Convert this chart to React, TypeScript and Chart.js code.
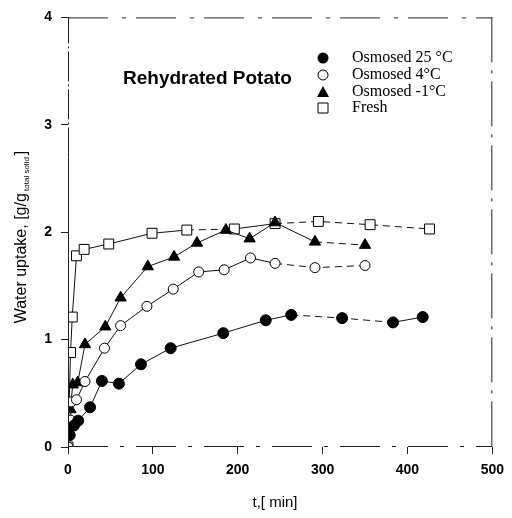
import React, { useEffect, useRef } from "react";
import { Chart, registerables } from "chart.js";

Chart.register(...registerables);

// ---- data ----
const labels25 = ["Osmosed 25 °C", "Osmosed 4°C", "Osmosed -1°C", "Fresh"];
const t25 = [2, 7, 12, 26, 40, 60, 86, 121, 183, 233, 263, 323, 383, 418];
const w25 = [0.11, 0.2, 0.245, 0.37, 0.615, 0.59, 0.77, 0.92, 1.06, 1.18, 1.23, 1.2, 1.16, 1.21];
const t4 = [0, 3, 4, 10, 20, 43, 62, 93, 124, 154, 184, 215, 244, 291, 350];
const w4 = [0, 0.25, 0.42, 0.44, 0.61, 0.92, 1.13, 1.31, 1.47, 1.63, 1.65, 1.76, 1.71, 1.67, 1.69];
const tM1 = [3, 5.5, 11.5, 20, 44, 62, 94, 125, 152, 186, 214, 244, 291, 350];
const wM1 = [0.35, 0.58, 0.6, 0.955, 1.12, 1.39, 1.68, 1.77, 1.9, 2.02, 1.94, 2.09, 1.91, 1.88];
const tFresh = [0, 3, 5, 10, 19, 48, 99, 140, 196, 244, 295, 356, 426];
const wFresh = [0, 0.88, 1.21, 1.78, 1.84, 1.89, 1.99, 2.02, 2.03, 2.08, 2.1, 2.07, 2.03];
// segments (by start index) drawn dashed
const dash25 = [10, 11];
const dash4 = [12, 13];
const dashM1 = [12];
const dashFresh = [7, 9, 10, 11];
const xTicks = [0, 100, 200, 300, 400, 500];
const yTicks = [0, 1, 2, 3, 4];
const chartTitle = "Rehydrated Potato";
const xTitle = "t,[ min]";
const yTitleMain = "Water uptake, [g/g";
const yTitleSub = "total solid";
const yTitleEnd = "]";

const pts = (t: number[], w: number[]) => t.map((x, i) => ({ x, y: w[i] }));
const segDash = (set: number[]) => ({
  borderDash: (ctx: any) => (set.includes(ctx.p0DataIndex) ? [7, 5] : undefined),
});

const decor = {
  id: "decor",
  afterDraw(chart: any) {
    const { ctx, chartArea: a } = chart;
    ctx.save();
    ctx.strokeStyle = "#222";
    ctx.lineWidth = 1;
    const line = (x1: number, y1: number, x2: number, y2: number, dash: number[]) => {
      ctx.setLineDash(dash);
      ctx.beginPath();
      ctx.moveTo(x1, y1);
      ctx.lineTo(x2, y2);
      ctx.stroke();
    };
    // frame
    line(a.left + 0.5, a.bottom, a.left + 0.5, a.top + 140, []);
    line(a.left + 0.5, a.top + 140, a.left + 0.5, a.top, [30, 3, 2, 3]);
    line(a.left, a.top + 0.5, a.right, a.top + 0.5, [40, 14, 4, 10]);
    line(a.right - 0.5, a.top, a.right - 0.5, a.bottom, [45, 8, 3, 8]);
    line(a.left, a.bottom - 0.5, a.right, a.bottom - 0.5, [40, 12, 4, 12]);
    ctx.setLineDash([]);

    // title
    ctx.fillStyle = "#000";
    ctx.font = "bold 19px 'Liberation Sans', Arial, sans-serif";
    ctx.textAlign = "left";
    ctx.textBaseline = "middle";
    ctx.fillText(chartTitle, 123, 79);

    // legend
    const lx = 323;
    const rows = [58, 75, 92, 108];
    ctx.font = "16px 'Liberation Serif', 'Times New Roman', serif";
    rows.forEach((y, i) => {
      ctx.lineWidth = 1;
      ctx.strokeStyle = "#000";
      ctx.beginPath();
      if (i === 0) {
        ctx.arc(lx, y, 5.5, 0, Math.PI * 2);
        ctx.fillStyle = "#000";
        ctx.fill();
      } else if (i === 1) {
        ctx.arc(lx, y, 5, 0, Math.PI * 2);
        ctx.fillStyle = "#fff";
        ctx.fill();
        ctx.stroke();
      } else if (i === 2) {
        ctx.moveTo(lx, y - 6);
        ctx.lineTo(lx + 6, y + 5);
        ctx.lineTo(lx - 6, y + 5);
        ctx.closePath();
        ctx.fillStyle = "#000";
        ctx.fill();
      } else {
        ctx.rect(lx - 5, y - 5, 10, 10);
        ctx.fillStyle = "#fff";
        ctx.fill();
        ctx.stroke();
      }
      ctx.fillStyle = "#000";
      ctx.textAlign = "left";
      ctx.textBaseline = "middle";
      ctx.fillText(labels25[i], 352, y);
    });

    // x title
    ctx.font = "15px 'Liberation Sans', Arial, sans-serif";
    ctx.textAlign = "center";
    ctx.textBaseline = "middle";
    ctx.fillText(xTitle, 275, 503);

    // y title (rotated with subscript)
    ctx.save();
    ctx.translate(22, 237);
    ctx.rotate(-Math.PI / 2);
    const f1 = "16px 'Liberation Sans', Arial, sans-serif";
    const f2 = "8px 'Liberation Sans', Arial, sans-serif";
    ctx.font = f1;
    const w1 = ctx.measureText(yTitleMain).width;
    const w3 = ctx.measureText(yTitleEnd).width;
    ctx.font = f2;
    const w2 = ctx.measureText(" " + yTitleSub).width;
    let x = -(w1 + w2 + w3 + 2) / 2;
    ctx.textAlign = "left";
    ctx.textBaseline = "middle";
    ctx.font = f1;
    ctx.fillText(yTitleMain, x, 0);
    x += w1;
    ctx.font = f2;
    ctx.fillText(" " + yTitleSub, x, 5);
    x += w2 + 2;
    ctx.font = f1;
    ctx.fillText(yTitleEnd, x, 0);
    ctx.restore();

    ctx.restore();
  },
};

export default function App() {
  const ref = useRef<HTMLCanvasElement | null>(null);
  useEffect(() => {
    if (!ref.current) return;
    Chart.defaults.font.family = "'Liberation Sans', Arial, sans-serif";
    const common = {
      borderColor: "#111",
      borderWidth: 1,
      pointBorderColor: "#000",
      pointBorderWidth: 1,
      showLine: true,
      tension: 0,
    };
    const chart = new Chart(ref.current, {
      type: "scatter",
      data: {
        datasets: [
          {
            ...common,
            label: labels25[0],
            data: pts(t25, w25),
            pointStyle: "circle",
            pointRadius: 5.5,
            pointBackgroundColor: "#000",
            segment: segDash(dash25),
          },
          {
            ...common,
            label: labels25[1],
            data: pts(t4, w4),
            pointStyle: "circle",
            pointRadius: 5,
            pointBackgroundColor: "#fff",
            segment: segDash(dash4),
          },
          {
            ...common,
            label: labels25[2],
            data: pts(tM1, wM1),
            pointStyle: "triangle",
            pointRadius: 6.5,
            pointBackgroundColor: "#000",
            segment: segDash(dashM1),
          },
          {
            ...common,
            label: labels25[3],
            data: pts(tFresh, wFresh),
            pointStyle: "rect",
            pointRadius: 7,
            pointBackgroundColor: "#fff",
            segment: segDash(dashFresh),
          },
        ],
      },
      options: {
        responsive: false,
        animation: false,
        layout: { padding: { left: 0, top: 16, right: 19, bottom: 0 } },
        plugins: { legend: { display: false }, tooltip: { enabled: false } },
        scales: {
          x: {
            type: "linear",
            min: 0,
            max: 500,
            afterFit: (s: any) => {
              s.height = 71;
            },
            afterBuildTicks: (s: any) => {
              s.ticks = xTicks.map((v) => ({ value: v }));
            },
            border: { display: false },
            grid: { drawOnChartArea: false, tickLength: 7, color: "#222" },
            ticks: {
              padding: 8,
              color: "#000",
              font: { size: 14, weight: "bold" },
            },
          },
          y: {
            type: "linear",
            min: 0,
            max: 4,
            afterFit: (s: any) => {
              s.width = 68;
            },
            afterBuildTicks: (s: any) => {
              s.ticks = yTicks.map((v) => ({ value: v }));
            },
            border: { display: false },
            grid: { drawOnChartArea: false, tickLength: 7, color: "#222" },
            ticks: {
              padding: 9,
              color: "#000",
              font: { size: 14, weight: "bold" },
            },
          },
        },
      },
      plugins: [decor],
    });
    return () => chart.destroy();
  }, []);
  return (
    <div style={{ position: "fixed", left: 0, top: 0, width: 512, height: 518, background: "#fff" }}>
      <canvas ref={ref} width={512} height={518} />
    </div>
  );
}
